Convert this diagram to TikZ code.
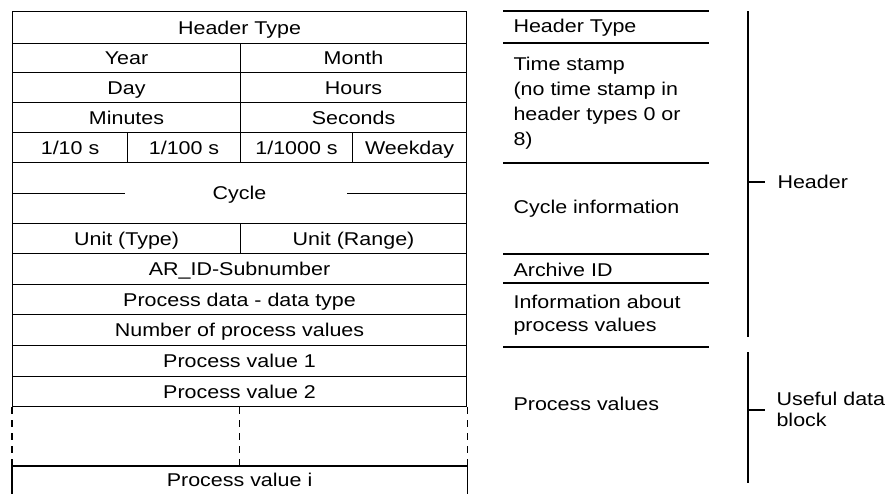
\documentclass[tikz,border=0pt]{standalone}
\usepackage{fontspec}
\setmainfont{Liberation Sans}[FakeStretch=1.16]
\usetikzlibrary{positioning}

\tikzset{
  every node/.style={font=\fontsize{18.5}{25}\selectfont, inner sep=0pt},
  cell/.style 2 args={draw, anchor=north west, minimum width=#1pt,
    minimum height=#2pt, text height=13pt, text depth=0pt},
  note/.style={anchor=north west, align=left},
  gap/.style={dash pattern=on 7pt off 6pt}
}

\begin{document}
\begin{tikzpicture}[x=1pt, y=-1pt, line width=1.1pt]
    \useasboundingbox (0,0) rectangle (890,493);

    % Record layout
    \node[cell={454}{32}] (htype) at (12,11) {Header Type};
    \node[cell={228}{29}] (year) at (12,43) {Year};
    \node[cell={226}{29}] (month) at (240,43) {Month};
    \node[cell={228}{30}] (day) at (12,72) {Day};
    \node[cell={226}{30}] (hours) at (240,72) {Hours};
    \node[cell={228}{30}] (minutes) at (12,102) {Minutes};
    \node[cell={226}{30}] (seconds) at (240,102) {Seconds};
    \node[cell={115}{30}] (tenth) at (12,132) {1/10 s};
    \node[cell={113}{30}] (hundredth) at (127,132) {1/100 s};
    \node[cell={112}{30}] (thousandth) at (240,132) {1/1000 s};
    \node[cell={114}{30}] (weekday) at (352,132) {Weekday};

    \node[cell={454}{61}] (cycle) at (12,162) {Cycle};
    \draw (cycle.west) -- ++(113,0);
    \draw (cycle.east) -- ++(-120,0);

    \node[cell={228}{30}] (utype) at (12,223) {Unit (Type)};
    \node[cell={226}{30}] (urange) at (240,223) {Unit (Range)};
    \node[cell={454}{31}] (arid) at (12,253) {AR\_ID-Subnumber};
    \node[cell={454}{30}] (pdtype) at (12,284) {Process data - data type};
    \node[cell={454}{31}] (numpv) at (12,314) {Number of process values};
    \node[cell={454}{31}] (pv1) at (12,345) {Process value 1};
    \node[cell={454}{30}] (pv2) at (12,376) {Process value 2};
    \node[cell={454}{27}, draw=none] (pvi) at (12,466) {Process value i};
    \draw (pvi.south west) -- (pvi.north west) -- (pvi.north east) -- (pvi.south east);

    % Omitted values
    \draw[gap] (pv2.south west) -- (pvi.north west);
    \draw[gap] (pv2.south) -- (pvi.north);
    \draw[gap] (pv2.south east) -- (pvi.north east);

    % Description column
    \foreach \y in {11,43,163,254,283,347}
        \draw (503,\y) -- (709,\y);
    \node[anchor=base west] (dhtype) at (513,32) {Header Type};
    \node[note] (dtime) at (513,56.5) {Time stamp\\(no time stamp in\\header types 0 or\\8)};
    \node[anchor=base west] (dcycle) at (513,213) {Cycle information};
    \node[anchor=base west] (darid) at (513,276) {Archive ID};
    \node[note, font=\fontsize{18.5}{23}\selectfont] (dinfo) at (513,294.5) {Information about\\process values};
    \node[anchor=base west] (dvalues) at (513,410) {Process values};

    % Grouping
    \draw (748,11) -- (748,337);
    \draw (748,182) -- (765,182);
    \node[anchor=base west] (header) at (777,188) {Header};
    \draw (748,352) -- (748,483);
    \draw (748,410) -- (765,410);
    \node[note, font=\fontsize{18.5}{21}\selectfont] (useful) at (776,391.5) {Useful data\\block};
\end{tikzpicture}
\end{document}
